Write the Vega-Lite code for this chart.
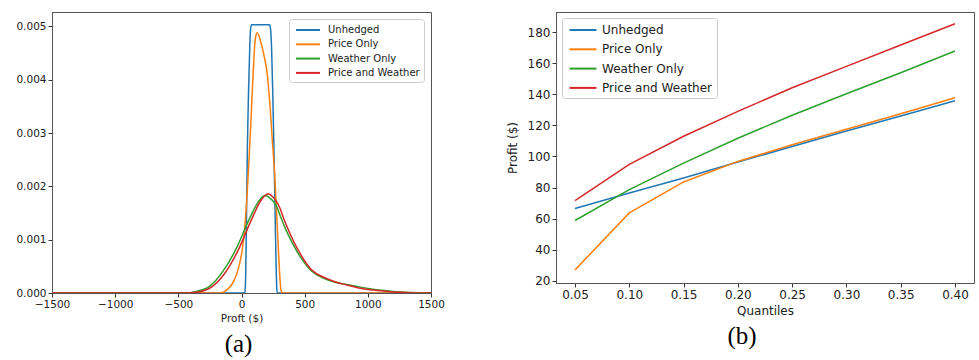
{
  "$schema": "https://vega.github.io/schema/vega-lite/v6.json",
  "padding": {"left": 15, "top": 11, "right": 4, "bottom": 0},
  "spacing": 60,
  "background": "white",
  "config": {
    "font": "DejaVu Sans",
    "view": {"stroke": "#555", "strokeWidth": 1},
    "axis": {"grid": false, "domainColor": "#555", "tickColor": "#333", "tickSize": 4, "tickWidth": 1, "labelColor": "#222", "titleColor": "#222", "titleFontWeight": "normal", "labelPadding": 2, "labelFlush": false, "labelOverlap": false}
  },
  "datasets": {
    "dens": [
      {"s": "Unhedged", "x": -1500, "y": 0}, {"s": "Unhedged", "x": 0, "y": 0}, {"s": "Unhedged", "x": 26, "y": 0}, {"s": "Unhedged", "x": 30, "y": 0.0001}, {"s": "Unhedged", "x": 33, "y": 0.0003}, {"s": "Unhedged", "x": 40, "y": 0.0015}, {"s": "Unhedged", "x": 47, "y": 0.0028}, {"s": "Unhedged", "x": 56, "y": 0.0038}, {"s": "Unhedged", "x": 66, "y": 0.00466}, {"s": "Unhedged", "x": 72, "y": 0.00495}, {"s": "Unhedged", "x": 80, "y": 0.00503}, {"s": "Unhedged", "x": 222, "y": 0.00503}, {"s": "Unhedged", "x": 230, "y": 0.00495}, {"s": "Unhedged", "x": 238, "y": 0.0046}, {"s": "Unhedged", "x": 247, "y": 0.0038}, {"s": "Unhedged", "x": 256, "y": 0.0028}, {"s": "Unhedged", "x": 266, "y": 0.0015}, {"s": "Unhedged", "x": 274, "y": 0.0005}, {"s": "Unhedged", "x": 279, "y": 0.0001}, {"s": "Unhedged", "x": 283, "y": 0}, {"s": "Unhedged", "x": 1500, "y": 0},
      {"s": "Price Only", "x": -1500, "y": 0}, {"s": "Price Only", "x": -400, "y": 0}, {"s": "Price Only", "x": -175, "y": 0}, {"s": "Price Only", "x": -120, "y": 0.00005}, {"s": "Price Only", "x": -66, "y": 0.0002}, {"s": "Price Only", "x": -20, "y": 0.0005}, {"s": "Price Only", "x": 5, "y": 0.0008}, {"s": "Price Only", "x": 25, "y": 0.0012}, {"s": "Price Only", "x": 40, "y": 0.0017}, {"s": "Price Only", "x": 55, "y": 0.0023}, {"s": "Price Only", "x": 68, "y": 0.0029}, {"s": "Price Only", "x": 80, "y": 0.0035}, {"s": "Price Only", "x": 92, "y": 0.0041}, {"s": "Price Only", "x": 105, "y": 0.00466}, {"s": "Price Only", "x": 114, "y": 0.00483}, {"s": "Price Only", "x": 124, "y": 0.00488}, {"s": "Price Only", "x": 151, "y": 0.00472}, {"s": "Price Only", "x": 177, "y": 0.00447}, {"s": "Price Only", "x": 204, "y": 0.0041}, {"s": "Price Only", "x": 225, "y": 0.00353}, {"s": "Price Only", "x": 243, "y": 0.0029}, {"s": "Price Only", "x": 264, "y": 0.00216}, {"s": "Price Only", "x": 277, "y": 0.00153}, {"s": "Price Only", "x": 290, "y": 0.00091}, {"s": "Price Only", "x": 304, "y": 0.00028}, {"s": "Price Only", "x": 312, "y": 0.00006}, {"s": "Price Only", "x": 320, "y": 0}, {"s": "Price Only", "x": 1500, "y": 0},
      {"s": "Weather Only", "x": -1500, "y": 0}, {"s": "Weather Only", "x": -460, "y": 0}, {"s": "Weather Only", "x": -357, "y": 0.00003}, {"s": "Weather Only", "x": -251, "y": 0.00013}, {"s": "Weather Only", "x": -146, "y": 0.00041}, {"s": "Weather Only", "x": -40, "y": 0.00084}, {"s": "Weather Only", "x": 66, "y": 0.00141}, {"s": "Weather Only", "x": 130, "y": 0.0017}, {"s": "Weather Only", "x": 185, "y": 0.00183}, {"s": "Weather Only", "x": 230, "y": 0.00177}, {"s": "Weather Only", "x": 277, "y": 0.00163}, {"s": "Weather Only", "x": 303, "y": 0.00147}, {"s": "Weather Only", "x": 340, "y": 0.00125}, {"s": "Weather Only", "x": 383, "y": 0.00103}, {"s": "Weather Only", "x": 420, "y": 0.00086}, {"s": "Weather Only", "x": 462, "y": 0.00069}, {"s": "Weather Only", "x": 500, "y": 0.00056}, {"s": "Weather Only", "x": 541, "y": 0.00044}, {"s": "Weather Only", "x": 590, "y": 0.00035}, {"s": "Weather Only", "x": 647, "y": 0.00028}, {"s": "Weather Only", "x": 740, "y": 0.0002}, {"s": "Weather Only", "x": 832, "y": 0.00016}, {"s": "Weather Only", "x": 920, "y": 0.00012}, {"s": "Weather Only", "x": 1017, "y": 0.00008}, {"s": "Weather Only", "x": 1110, "y": 0.00005}, {"s": "Weather Only", "x": 1202, "y": 0.00003}, {"s": "Weather Only", "x": 1300, "y": 0.000015}, {"s": "Weather Only", "x": 1400, "y": 0.000005}, {"s": "Weather Only", "x": 1500, "y": 0},
      {"s": "Price and Weather", "x": -1500, "y": 0}, {"s": "Price and Weather", "x": -450, "y": 0}, {"s": "Price and Weather", "x": -340, "y": 0.00002}, {"s": "Price and Weather", "x": -238, "y": 0.00011}, {"s": "Price and Weather", "x": -132, "y": 0.00037}, {"s": "Price and Weather", "x": -27, "y": 0.0008}, {"s": "Price and Weather", "x": 80, "y": 0.00138}, {"s": "Price and Weather", "x": 150, "y": 0.00172}, {"s": "Price and Weather", "x": 211, "y": 0.00186}, {"s": "Price and Weather", "x": 240, "y": 0.00182}, {"s": "Price and Weather", "x": 277, "y": 0.00172}, {"s": "Price and Weather", "x": 303, "y": 0.0016}, {"s": "Price and Weather", "x": 340, "y": 0.00136}, {"s": "Price and Weather", "x": 383, "y": 0.00112}, {"s": "Price and Weather", "x": 420, "y": 0.00093}, {"s": "Price and Weather", "x": 462, "y": 0.00075}, {"s": "Price and Weather", "x": 500, "y": 0.0006}, {"s": "Price and Weather", "x": 541, "y": 0.00047}, {"s": "Price and Weather", "x": 590, "y": 0.00037}, {"s": "Price and Weather", "x": 647, "y": 0.0003}, {"s": "Price and Weather", "x": 740, "y": 0.00021}, {"s": "Price and Weather", "x": 832, "y": 0.00015}, {"s": "Price and Weather", "x": 920, "y": 0.0001}, {"s": "Price and Weather", "x": 1017, "y": 0.00006}, {"s": "Price and Weather", "x": 1110, "y": 0.00004}, {"s": "Price and Weather", "x": 1202, "y": 0.00002}, {"s": "Price and Weather", "x": 1300, "y": 0.00001}, {"s": "Price and Weather", "x": 1400, "y": 0}, {"s": "Price and Weather", "x": 1500, "y": 0}
    ],
    "quant": [
      {"s": "Unhedged", "q": 0.05, "p": 66.5}, {"s": "Unhedged", "q": 0.10, "p": 76.5}, {"s": "Unhedged", "q": 0.15, "p": 86.1}, {"s": "Unhedged", "q": 0.20, "p": 96.4}, {"s": "Unhedged", "q": 0.25, "p": 106.4}, {"s": "Unhedged", "q": 0.30, "p": 116.4}, {"s": "Unhedged", "q": 0.35, "p": 126.0}, {"s": "Unhedged", "q": 0.40, "p": 135.8},
      {"s": "Price Only", "q": 0.05, "p": 27.0}, {"s": "Price Only", "q": 0.10, "p": 63.7}, {"s": "Price Only", "q": 0.15, "p": 83.6}, {"s": "Price Only", "q": 0.20, "p": 96.8}, {"s": "Price Only", "q": 0.25, "p": 107.5}, {"s": "Price Only", "q": 0.30, "p": 117.5}, {"s": "Price Only", "q": 0.35, "p": 127.5}, {"s": "Price Only", "q": 0.40, "p": 137.8},
      {"s": "Weather Only", "q": 0.05, "p": 58.8}, {"s": "Weather Only", "q": 0.10, "p": 78.7}, {"s": "Weather Only", "q": 0.15, "p": 95.7}, {"s": "Weather Only", "q": 0.20, "p": 111.7}, {"s": "Weather Only", "q": 0.25, "p": 126.5}, {"s": "Weather Only", "q": 0.30, "p": 140.3}, {"s": "Weather Only", "q": 0.35, "p": 153.8}, {"s": "Weather Only", "q": 0.40, "p": 167.8},
      {"s": "Price and Weather", "q": 0.05, "p": 71.6}, {"s": "Price and Weather", "q": 0.10, "p": 94.9}, {"s": "Price and Weather", "q": 0.15, "p": 113.0}, {"s": "Price and Weather", "q": 0.20, "p": 129.0}, {"s": "Price and Weather", "q": 0.25, "p": 144.2}, {"s": "Price and Weather", "q": 0.30, "p": 157.9}, {"s": "Price and Weather", "q": 0.35, "p": 171.7}, {"s": "Price and Weather", "q": 0.40, "p": 185.3}
    ]
  },
  "hconcat": [
    {
      "width": 379,
      "height": 281,
      "data": {"name": "dens"},
      "title": {"text": "(a)", "orient": "bottom", "font": "Liberation Serif", "fontSize": 25, "fontWeight": "normal", "color": "black", "frame": "group", "anchor": "middle", "dx": -3, "offset": 8},
      "mark": {"type": "line", "strokeWidth": 1.5, "interpolate": "monotone", "clip": true},
      "encoding": {
        "x": {"field": "x", "type": "quantitative", "scale": {"domain": [-1500, 1500], "nice": false, "zero": false},
              "axis": {"title": "Proft ($)", "values": [-1500, -1000, -500, 0, 500, 1000, 1500], "format": "d", "labelFontSize": 10.5, "titleFontSize": 10.5, "titlePadding": 4}},
        "y": {"field": "y", "type": "quantitative", "scale": {"domain": [0, 0.00527], "nice": false},
              "axis": {"title": null, "values": [0, 0.001, 0.002, 0.003, 0.004, 0.005], "format": ".3f", "labelFontSize": 10.5}},
        "color": {"field": "s", "type": "nominal",
                  "scale": {"domain": ["Unhedged", "Price Only", "Weather Only", "Price and Weather"], "range": ["#1f77b4", "#ff7f0e", "#2ca02c", "#d62728"]},
                  "legend": {"title": null, "orient": "top-right", "offset": 7, "fillColor": "white", "strokeColor": "#ccc", "cornerRadius": 3, "padding": 4, "symbolOffset": 8, "symbolType": "M-2,0H2", "symbolFillColor": "transparent", "symbolStrokeWidth": 2, "symbolSize": 144, "labelFontSize": 10, "labelColor": "#222", "labelOffset": 13, "rowPadding": 2.3}}
      }
    },
    {
      "width": 418,
      "height": 271,
      "data": {"name": "quant"},
      "title": {"text": "(b)", "orient": "bottom", "font": "Liberation Serif", "fontSize": 25, "fontWeight": "normal", "color": "black", "frame": "group", "anchor": "middle", "dx": -23, "offset": 8},
      "mark": {"type": "line", "strokeWidth": 1.5},
      "encoding": {
        "x": {"field": "q", "type": "quantitative", "scale": {"domain": [0.0325, 0.4175], "nice": false, "zero": false},
              "axis": {"title": "Quantiles", "values": [0.05, 0.1, 0.15, 0.2, 0.25, 0.3, 0.35, 0.4], "format": ".2f", "labelFontSize": 12, "titleFontSize": 12, "titlePadding": 5}},
        "y": {"field": "p", "type": "quantitative", "scale": {"domain": [18.6, 192.9], "nice": false, "zero": false},
              "axis": {"title": "Profit ($)", "values": [20, 40, 60, 80, 100, 120, 140, 160, 180], "labelFontSize": 12, "titleFontSize": 12, "titlePadding": 8}},
        "color": {"field": "s", "type": "nominal",
                  "scale": {"domain": ["Unhedged", "Price Only", "Weather Only", "Price and Weather"], "range": ["#1f77b4", "#ff7f0e", "#2ca02c", "#d62728"]},
                  "legend": {"title": null, "orient": "top-left", "offset": 6, "fillColor": "white", "strokeColor": "#ccc", "cornerRadius": 3, "padding": 4, "symbolOffset": 9, "symbolType": "M-2,0H2", "symbolFillColor": "transparent", "symbolStrokeWidth": 2, "symbolSize": 182, "labelFontSize": 12, "labelColor": "#222", "labelOffset": 11, "rowPadding": 5.3}}
      }
    }
  ],
  "resolve": {"scale": {"color": "independent"}, "legend": {"color": "independent"}}
}
